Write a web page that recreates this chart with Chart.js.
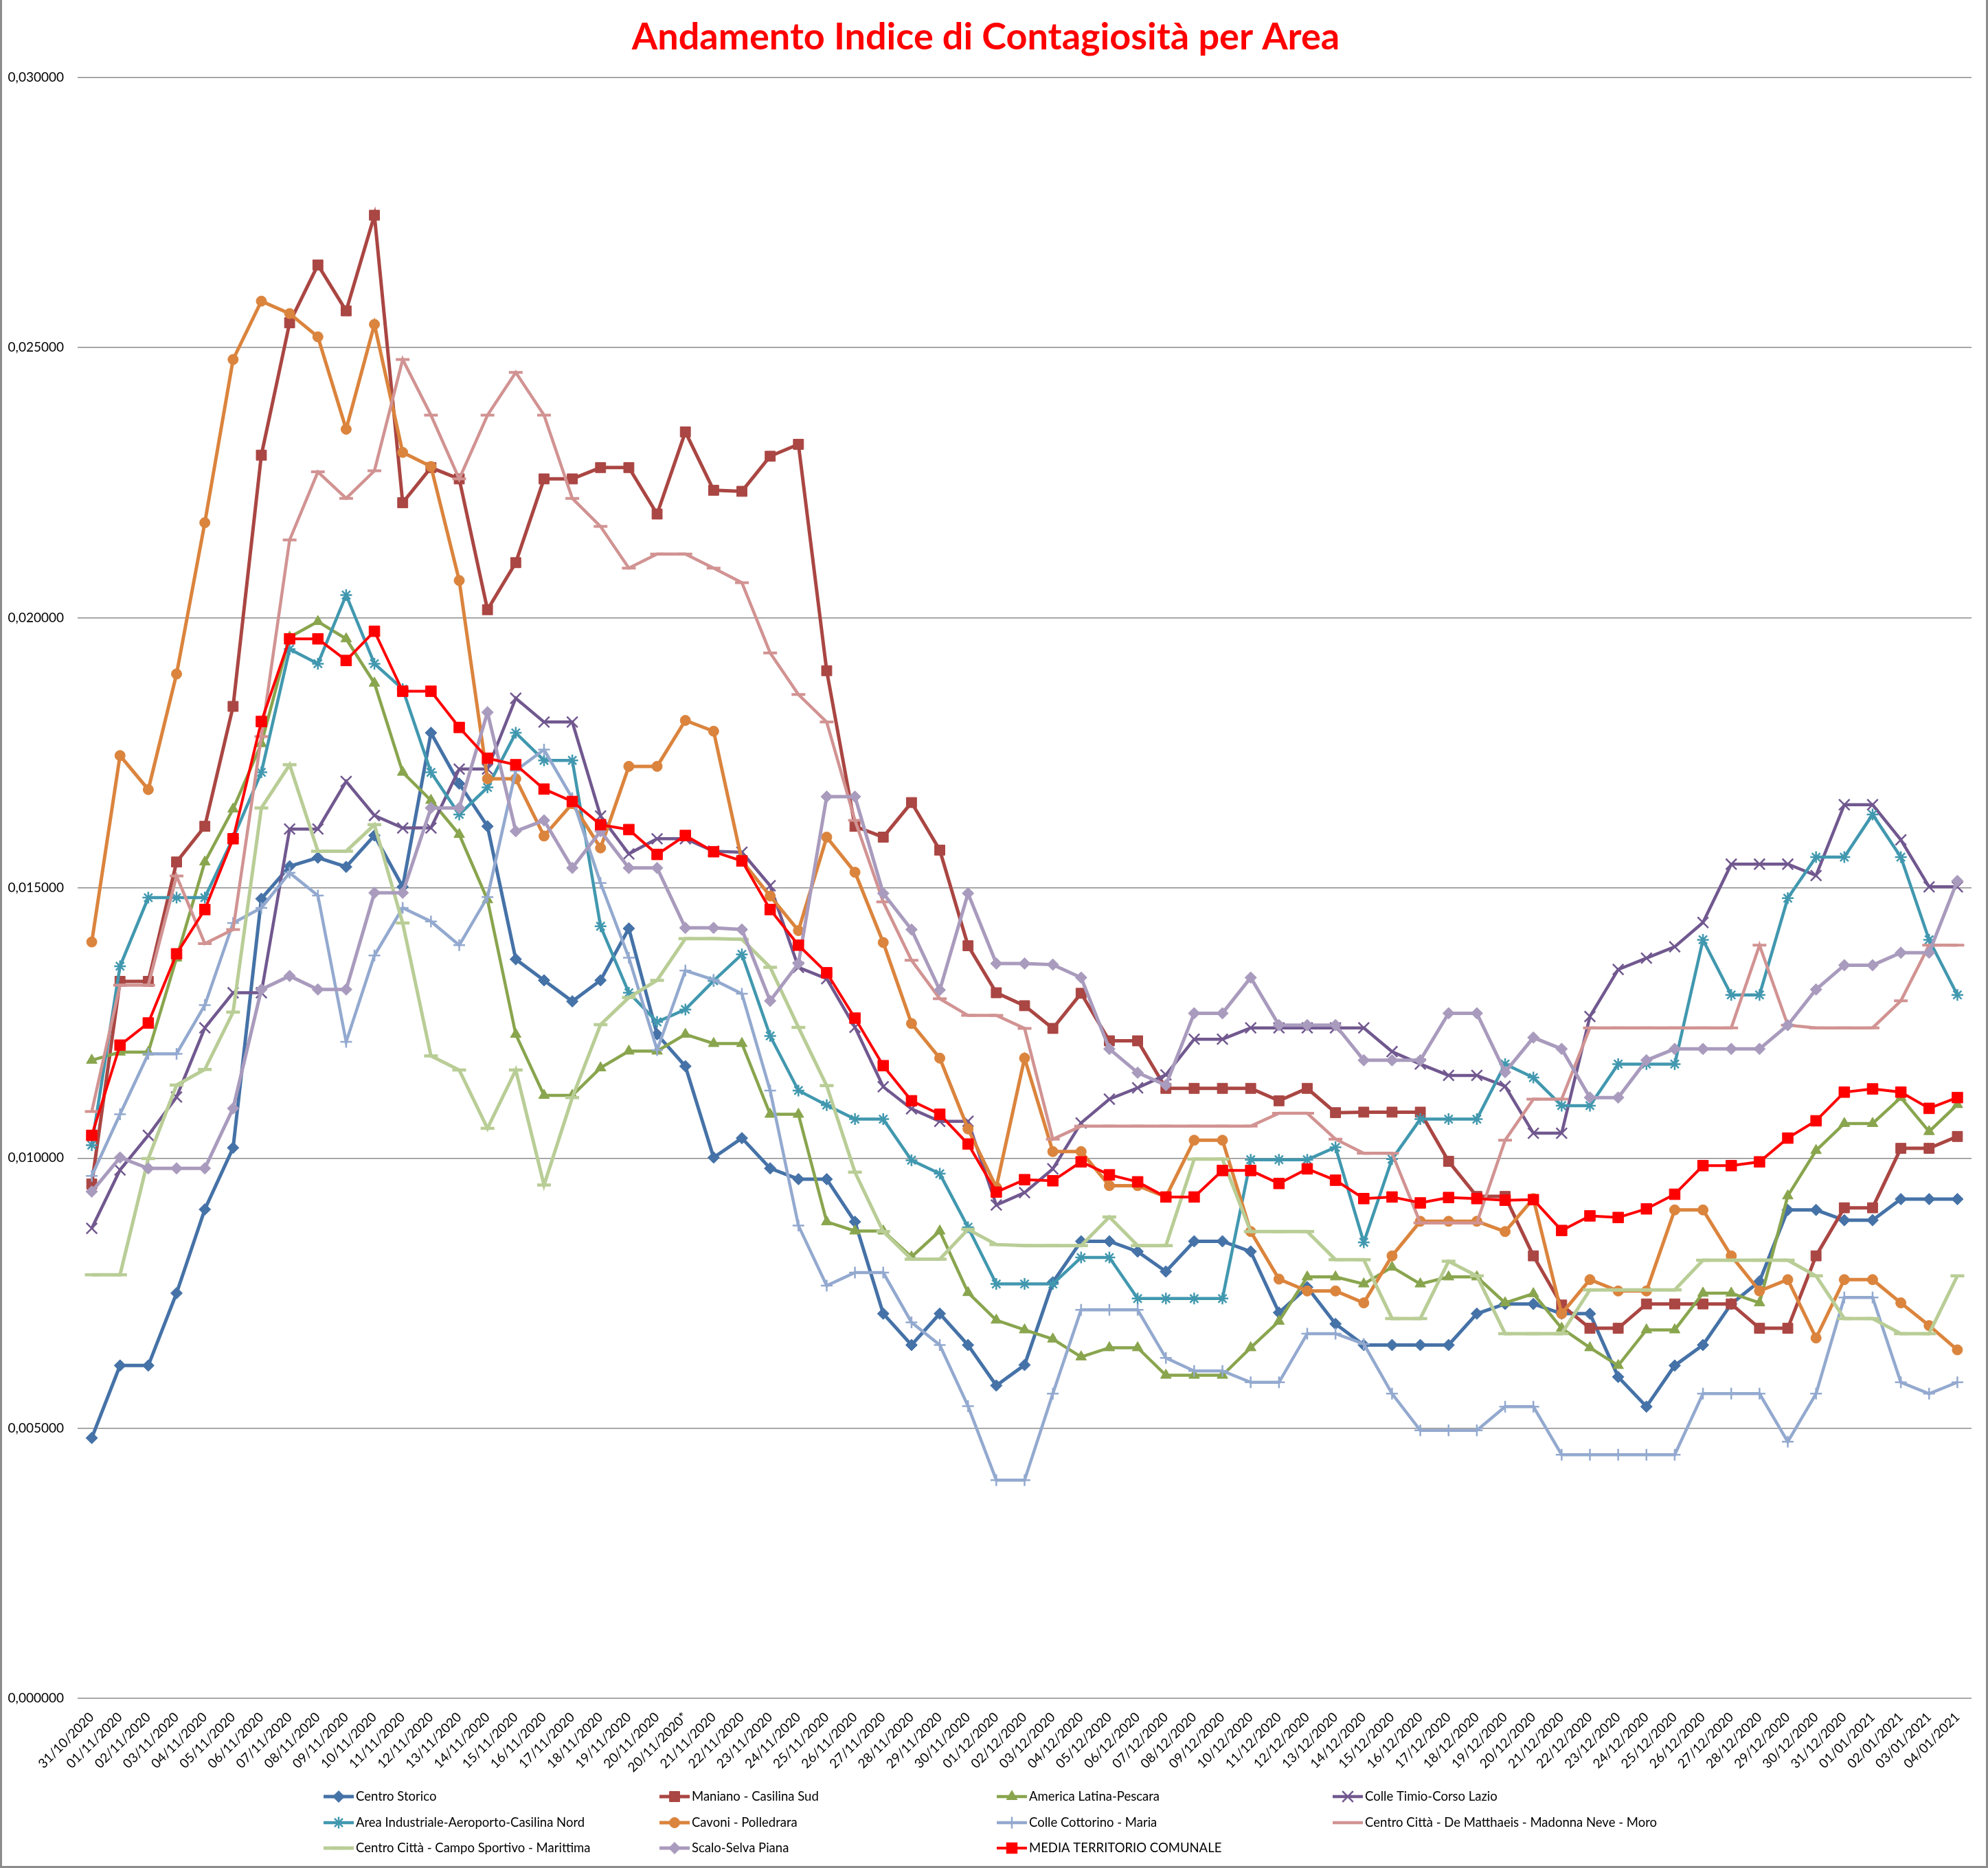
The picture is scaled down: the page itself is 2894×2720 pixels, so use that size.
<!DOCTYPE html>
<html>
<head>
<meta charset="utf-8">
<title>Andamento Indice di Contagiosità per Area</title>
<script src="https://cdn.jsdelivr.net/npm/chart.js@4.4.1/dist/chart.umd.min.js"></script>
<style>
    html, body { margin: 0; padding: 0; background: #fff; }
    #myChart { display: block; }
</style>
</head>
<body>
<canvas id="myChart" width="2894" height="2720"></canvas>
<script>
const days = [
    '31/10/2020',
    '01/11/2020', '02/11/2020', '03/11/2020', '04/11/2020', '05/11/2020', '06/11/2020', '07/11/2020', '08/11/2020', '09/11/2020', '10/11/2020',
    '11/11/2020', '12/11/2020', '13/11/2020', '14/11/2020', '15/11/2020', '16/11/2020', '17/11/2020', '18/11/2020', '19/11/2020', '20/11/2020',
    '20/11/2020*',
    '21/11/2020', '22/11/2020', '23/11/2020', '24/11/2020', '25/11/2020', '26/11/2020', '27/11/2020', '28/11/2020', '29/11/2020', '30/11/2020',
    '01/12/2020', '02/12/2020', '03/12/2020', '04/12/2020', '05/12/2020', '06/12/2020', '07/12/2020', '08/12/2020', '09/12/2020', '10/12/2020',
    '11/12/2020', '12/12/2020', '13/12/2020', '14/12/2020', '15/12/2020', '16/12/2020', '17/12/2020', '18/12/2020', '19/12/2020', '20/12/2020',
    '21/12/2020', '22/12/2020', '23/12/2020', '24/12/2020', '25/12/2020', '26/12/2020', '27/12/2020', '28/12/2020', '29/12/2020', '30/12/2020',
    '31/12/2020',
    '01/01/2021', '02/01/2021', '03/01/2021', '04/01/2021'
];

const centroStorico = [
    0.00482, 0.00616, 0.00616, 0.0075, 0.00905, 0.01019, 0.0148, 0.0154, 0.01556, 0.01539, 0.01597, 0.01502,
    0.01787, 0.01693, 0.01614, 0.01368, 0.01329, 0.0129, 0.01329, 0.01425, 0.01229, 0.0117, 0.01001,
    0.01037, 0.00981, 0.00961, 0.00961, 0.00882, 0.00712, 0.00654, 0.00712, 0.00654, 0.00579, 0.00617,
    0.0077, 0.00846, 0.00846, 0.00827, 0.0079, 0.00846, 0.00846, 0.00827, 0.00714, 0.00761, 0.00693,
    0.00654, 0.00654, 0.00654, 0.00654, 0.00712, 0.0073, 0.0073, 0.00712, 0.00712, 0.00595, 0.0054,
    0.00616, 0.00654, 0.0073, 0.00772, 0.00904, 0.00904, 0.00885, 0.00885, 0.00924, 0.00924, 0.00924
];
const maniano = [
    0.00952, 0.01327, 0.01327, 0.01548, 0.01614, 0.01836, 0.02301, 0.02546, 0.02653, 0.02568, 0.02745, 0.02213,
    0.02278, 0.02257, 0.02015, 0.02102, 0.02257, 0.02257, 0.02278, 0.02278, 0.02192, 0.02344, 0.02236,
    0.02234, 0.02299, 0.02321, 0.01902, 0.01614, 0.01594, 0.01658, 0.0157, 0.01393, 0.01306, 0.01282,
    0.0124, 0.01305, 0.01217, 0.01217, 0.01129, 0.01129, 0.01129, 0.01129, 0.01106, 0.01129, 0.01084,
    0.01085, 0.01085, 0.01085, 0.00994, 0.00929, 0.00929, 0.00819, 0.00728, 0.00685, 0.00685, 0.0073,
    0.0073, 0.0073, 0.0073, 0.00685, 0.00685, 0.00819, 0.00908, 0.00908, 0.01018, 0.01018, 0.0104
];
const americaLatina = [
    0.01181, 0.01196, 0.01196, 0.0137, 0.01548, 0.01646, 0.01767, 0.01964, 0.01993, 0.01961, 0.01879, 0.01714,
    0.01662, 0.01599, 0.01478, 0.01229, 0.01116, 0.01116, 0.01167, 0.01198, 0.01198, 0.01229, 0.01212,
    0.01212, 0.01081, 0.01081, 0.00882, 0.00865, 0.00865, 0.00817, 0.00865, 0.00751, 0.007, 0.00682,
    0.00665, 0.00632, 0.00649, 0.00649, 0.00598, 0.00598, 0.00598, 0.00649, 0.00698, 0.0078, 0.0078,
    0.00767, 0.00798, 0.00767, 0.0078, 0.0078, 0.00732, 0.00749, 0.00685, 0.00649, 0.00616, 0.00682,
    0.00682, 0.0075, 0.0075, 0.00732, 0.0093, 0.01014, 0.01064, 0.01064, 0.01112, 0.01049, 0.01099
];
const colleTimio = [
    0.0087, 0.00978, 0.01042, 0.01113, 0.01241, 0.01306, 0.01306, 0.01609, 0.01609, 0.01697, 0.01634, 0.01611,
    0.01611, 0.0172, 0.0172, 0.01851, 0.01807, 0.01807, 0.01633, 0.01563, 0.01591, 0.01591, 0.01568,
    0.01566, 0.01504, 0.01353, 0.01332, 0.01242, 0.01132, 0.01091, 0.01068, 0.01068, 0.00913, 0.00936,
    0.0098, 0.01065, 0.01109, 0.0113, 0.01154, 0.0122, 0.0122, 0.01241, 0.01241, 0.01241, 0.01241,
    0.01241, 0.01197, 0.01174, 0.01153, 0.01153, 0.01133, 0.01046, 0.01046, 0.01262, 0.01349, 0.0137,
    0.01391, 0.01436, 0.01544, 0.01544, 0.01544, 0.01523, 0.01654, 0.01654, 0.01589, 0.01502, 0.01502
];
const areaIndustriale = [
    0.01024, 0.01355, 0.01482, 0.01482, 0.01482, 0.01592, 0.01714, 0.01942, 0.01915, 0.02042, 0.01915, 0.01868,
    0.01714, 0.01636, 0.01686, 0.01787, 0.01736, 0.01736, 0.01429, 0.01306, 0.01252, 0.01275, 0.01328,
    0.01377, 0.01226, 0.01125, 0.01098, 0.01072, 0.01072, 0.00996, 0.00971, 0.00872, 0.00767, 0.00767,
    0.00767, 0.00816, 0.00816, 0.0074, 0.0074, 0.0074, 0.0074, 0.00997, 0.00997, 0.00997, 0.0102,
    0.00844, 0.00998, 0.01072, 0.01072, 0.01072, 0.01174, 0.01149, 0.01097, 0.01097, 0.01174, 0.01174,
    0.01174, 0.01404, 0.01302, 0.01302, 0.01481, 0.01557, 0.01557, 0.01636, 0.01557, 0.01404, 0.01302
];
const cavoni = [
    0.014, 0.01745, 0.01682, 0.01896, 0.02176, 0.02478, 0.02586, 0.02563, 0.0252, 0.02349, 0.02543, 0.02306,
    0.0228, 0.02069, 0.01702, 0.01702, 0.01596, 0.01656, 0.01574, 0.01725, 0.01725, 0.0181, 0.0179,
    0.0155, 0.01485, 0.01421, 0.01594, 0.01529, 0.01399, 0.01249, 0.01185, 0.01054, 0.00946, 0.01185,
    0.01012, 0.01012, 0.00949, 0.00949, 0.00928, 0.01033, 0.01033, 0.00864, 0.00776, 0.00754, 0.00754,
    0.00732, 0.00819, 0.00883, 0.00883, 0.00883, 0.00864, 0.00925, 0.00712, 0.00775, 0.00754, 0.00754,
    0.00904, 0.00904, 0.00819, 0.00754, 0.00775, 0.00667, 0.00775, 0.00775, 0.00732, 0.0069, 0.00645
];
const colleCottorino = [
    0.00967, 0.01081, 0.01193, 0.01193, 0.01283, 0.01435, 0.01463, 0.01528, 0.01486, 0.01215, 0.01375, 0.01463,
    0.01438, 0.01394, 0.01483, 0.01717, 0.01756, 0.01666, 0.01509, 0.01371, 0.012, 0.01347, 0.0133,
    0.01304, 0.01125, 0.00875, 0.00764, 0.00788, 0.00788, 0.00696, 0.00654, 0.00541, 0.00404, 0.00404,
    0.00564, 0.00719, 0.00719, 0.00719, 0.0063, 0.00606, 0.00606, 0.00585, 0.00585, 0.00675, 0.00675,
    0.00656, 0.00564, 0.00496, 0.00496, 0.00496, 0.0054, 0.0054, 0.00451, 0.00451, 0.00451, 0.00451,
    0.00451, 0.00564, 0.00564, 0.00564, 0.00475, 0.00564, 0.00742, 0.00742, 0.00585, 0.00564, 0.00585
];
const deMatthaeis = [
    0.01086, 0.0132, 0.0132, 0.01522, 0.01397, 0.01423, 0.0178, 0.02144, 0.0227, 0.02221, 0.02272, 0.02478,
    0.02375, 0.02257, 0.02375, 0.02454, 0.02375, 0.02221, 0.02169, 0.02092, 0.02118, 0.02118, 0.02092,
    0.02065, 0.01935, 0.01858, 0.01807, 0.01625, 0.01474, 0.01366, 0.01295, 0.01264, 0.01264, 0.0124,
    0.01035, 0.01059, 0.01059, 0.01059, 0.01059, 0.01059, 0.01059, 0.01059, 0.01083, 0.01083, 0.01035,
    0.01009, 0.01009, 0.0088, 0.0088, 0.0088, 0.01033, 0.01109, 0.01109, 0.01241, 0.01241, 0.01241,
    0.01241, 0.01241, 0.01241, 0.01394, 0.01246, 0.01241, 0.01241, 0.01241, 0.01291, 0.01394, 0.01394
];
const campoSportivo = [
    0.00784, 0.00784, 0.00999, 0.01135, 0.01164, 0.0127, 0.01648, 0.01728, 0.01568, 0.01568, 0.01617, 0.01435,
    0.01189, 0.01163, 0.01055, 0.01163, 0.0095, 0.01112, 0.01247, 0.01297, 0.01329, 0.01406, 0.01406,
    0.01405, 0.01353, 0.01242, 0.01134, 0.00974, 0.00864, 0.00813, 0.00813, 0.00868, 0.0084, 0.00838,
    0.00838, 0.00838, 0.00891, 0.00838, 0.00838, 0.00998, 0.00998, 0.00864, 0.00864, 0.00864, 0.00812,
    0.00812, 0.00703, 0.00703, 0.00809, 0.00782, 0.00675, 0.00675, 0.00675, 0.00756, 0.00756, 0.00756,
    0.00756, 0.00811, 0.00811, 0.00811, 0.00811, 0.00782, 0.00703, 0.00703, 0.00675, 0.00675, 0.00782
];
const scaloSelva = [
    0.00938, 0.01001, 0.00981, 0.00981, 0.00981, 0.01092, 0.01312, 0.01337, 0.01312, 0.01312, 0.01491, 0.01491,
    0.01648, 0.01648, 0.01825, 0.01605, 0.01625, 0.01537, 0.01605, 0.01537, 0.01537, 0.01426, 0.01426,
    0.01423, 0.01291, 0.0136, 0.01669, 0.01669, 0.0149, 0.01423, 0.01311, 0.0149, 0.0136, 0.0136,
    0.01358, 0.01334, 0.01202, 0.01158, 0.01135, 0.01268, 0.01268, 0.01334, 0.01246, 0.01246, 0.01246,
    0.01181, 0.01181, 0.01181, 0.01268, 0.01268, 0.01159, 0.01223, 0.01202, 0.01112, 0.01112, 0.01181,
    0.01202, 0.01202, 0.01202, 0.01202, 0.01246, 0.01312, 0.01357, 0.01357, 0.0138, 0.0138, 0.01513
];
const media = [
    0.01042, 0.01209, 0.0125, 0.01378, 0.0146, 0.01591, 0.01808, 0.01961, 0.01961, 0.01921, 0.01975, 0.01864,
    0.01864, 0.01797, 0.0174, 0.01728, 0.01683, 0.0166, 0.01617, 0.01608, 0.01562, 0.01597, 0.01567,
    0.0155, 0.0146, 0.01394, 0.01343, 0.01259, 0.01171, 0.01106, 0.01081, 0.01026, 0.00937, 0.0096,
    0.00958, 0.00993, 0.00969, 0.00956, 0.00928, 0.00928, 0.00977, 0.00977, 0.00953, 0.0098, 0.00959,
    0.00925, 0.00928, 0.00917, 0.00927, 0.00925, 0.00922, 0.00923, 0.00866, 0.00893, 0.0089, 0.00906,
    0.00933, 0.00986, 0.00986, 0.00993, 0.01037, 0.01069, 0.01122, 0.01128, 0.01122, 0.01092, 0.01112
];

// one line per area: label, values, colour, marker, marker radius, marker stroke, line width
function serie(label, data, color, style, radius, pbw, lw) {
    return {
        label: label,
        data: data,
        borderColor: color,
        backgroundColor: color,
        pointBackgroundColor: color,
        pointBorderColor: color,
        pointStyle: style,
        pointRadius: radius,
        pointHoverRadius: radius,
        pointBorderWidth: pbw,
        borderWidth: lw,
        tension: 0,
        fill: false
    };
}

const datasets = [
    serie('Centro Storico', centroStorico, '#4572A7', 'rectRot', 8.5, 1, 5),
    serie('Maniano - Casilina Sud', maniano, '#AA4643', 'rect', 10.5, 1, 5),
    serie('America Latina-Pescara', americaLatina, '#89A54E', 'triangle', 9, 1, 4.5),
    serie('Colle Timio-Corso Lazio', colleTimio, '#71588F', 'crossRot', 11, 2.5, 4.5),
    serie('Area Industriale-Aeroporto-Casilina Nord', areaIndustriale, '#4198AF', 'star', 8.5, 2.5, 4.5),
    serie('Cavoni - Polledrara', cavoni, '#DB843D', 'circle', 7.5, 1, 5),
    serie('Colle Cottorino - Maria', colleCottorino, '#93A9CF', 'cross', 8.5, 2.5, 4.5),
    serie('Centro Città - De Matthaeis - Madonna Neve - Moro', deMatthaeis, '#D19392', 'line', 10, 4, 4.5),
    serie('Centro Città - Campo Sportivo - Marittima', campoSportivo, '#B9CD96', 'line', 10, 4.5, 5),
    serie('Scalo-Selva Piana', scaloSelva, '#A99BBD', 'rectRot', 8.5, 1, 5),
    serie('MEDIA TERRITORIO COMUNALE', media, '#FF0000', 'rect', 11, 1, 4)
];
// later series sit on top, like the original sheet
datasets.forEach((d, i) => { d.order = datasets.length - i; });

const legendCols = [493, 982, 1473, 1962];
const legendRows = [2616, 2654, 2691];

const areaLegend = {
    id: 'areaLegend',
    afterDraw(chart) {
        const ctx = chart.ctx;
        chart.data.datasets.forEach((ds, i) => {
            const x = legendCols[i % 4];
            const y = legendRows[Math.floor(i / 4)];
            ctx.save();
            ctx.strokeStyle = ds.borderColor;
            ctx.lineWidth = ds.borderWidth;
            ctx.beginPath();
            ctx.moveTo(x - 22, y);
            ctx.lineTo(x + 22, y);
            ctx.stroke();
            ctx.fillStyle = ds.pointBackgroundColor;
            ctx.strokeStyle = ds.pointBorderColor;
            ctx.lineWidth = ds.pointBorderWidth;
            Chart.helpers.drawPoint(ctx, {
                pointStyle: ds.pointStyle,
                radius: ds.pointRadius,
                borderWidth: ds.pointBorderWidth,
                rotation: 0
            }, x, y);
            ctx.fillStyle = '#000';
            ctx.font = '18.5px Lato';
            ctx.textAlign = 'left';
            ctx.textBaseline = 'middle';
            ctx.fillText(ds.label, x + 25, y);
            ctx.restore();
        });
        // grey frame round the picture
        const w = chart.width, h = chart.height;
        ctx.save();
        ctx.strokeStyle = '#8c8c8c';
        ctx.lineWidth = 3;
        ctx.beginPath();
        ctx.moveTo(1.5, 0);
        ctx.lineTo(1.5, h - 1.5);
        ctx.lineTo(w - 1.5, h - 1.5);
        ctx.lineTo(w - 1.5, 0);
        ctx.stroke();
        ctx.restore();
    }
};

const ctx = document.getElementById('myChart').getContext('2d');
new Chart(ctx, {
    type: 'line',
    data: { labels: days, datasets: datasets },
    plugins: [areaLegend],
    options: {
        responsive: false,
        animation: false,
        devicePixelRatio: 1,
        layout: { padding: { left: 0, right: 24, top: 0, bottom: 127 } },
        plugins: {
            legend: { display: false },
            tooltip: { enabled: false },
            title: {
                display: true,
                text: 'Andamento Indice di Contagiosità per Area',
                color: '#FF0000',
                font: { family: 'Lato', size: 54, weight: 'bold' },
                padding: { top: 22, bottom: 26 }
            }
        },
        scales: {
            x: {
                offset: true,
                grid: { display: false },
                border: { display: false },
                ticks: {
                    autoSkip: false,
                    maxRotation: 45,
                    minRotation: 45,
                    padding: 8,
                    color: '#000',
                    font: { family: 'Lato', size: 19 }
                },
                afterFit: function (scale) { scale.height = 120; }
            },
            y: {
                min: 0,
                max: 0.03,
                border: { display: false },
                grid: { color: '#8c8c8c', lineWidth: 1.5, drawTicks: false },
                ticks: {
                    stepSize: 0.005,
                    padding: 20,
                    color: '#000',
                    font: { family: 'Lato', size: 19 },
                    callback: function (v) { return v.toFixed(6).replace('.', ','); }
                },
                afterFit: function (scale) { scale.width = 113; }
            }
        }
    }
});
</script>
</body>
</html>
